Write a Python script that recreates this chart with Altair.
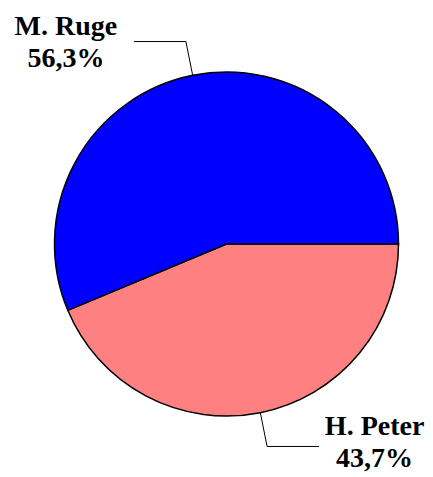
import math
import altair as alt
import pandas as pd

names = ["H. Peter", "M. Ruge"]
shares = [43.7, 56.3]
labels = ["H. Peter\n43,7%", "M. Ruge\n56,3%"]
colors = ["#FF8080", "#0000FF"]

# geometry (svg pixel space)
W, H = 417, 469
CX, CY, R = 218.5, 236.0, 172.0
R_ELBOW = 206.5
START = math.pi / 2

df = pd.DataFrame({"name": names, "share": shares, "order": [0, 1]})

# derive leader lines from the slice mid angles
total = sum(shares)
rows_line = []
rows_text = []
acc = 0.0
for n, s, lab in zip(names, shares, labels):
    mid = START + 2 * math.pi * (acc + s / 2) / total
    acc += s
    ex, ey = CX + R * math.sin(mid), CY - R * math.cos(mid)
    bx, by = CX + R_ELBOW * math.sin(mid), CY - R_ELBOW * math.cos(mid)
    side = 1 if math.sin(mid) > 0 else -1
    hx = bx + side * 52
    rows_line.append({"x": ex, "y": ey, "x2": bx, "y2": by})
    rows_line.append({"x": bx, "y": by, "x2": hx, "y2": by})
    if side > 0:
        tx, ty = hx + 55.5, by - 11
    else:
        tx, ty = hx - 68, by - 7
    rows_text.append({"x": tx, "y": ty, "label": lab})

lines_df = pd.DataFrame(rows_line)
text_df = pd.DataFrame(rows_text)

pie = alt.Chart(df).mark_arc(radius=R, stroke="black", strokeWidth=1.5).encode(
    theta=alt.Theta("share:Q", stack=True,
                    scale=alt.Scale(range=[START, START + 2 * math.pi])),
    order=alt.Order("order:Q"),
    color=alt.Color("name:N", scale=alt.Scale(domain=names, range=colors), legend=None),
    x=alt.value(CX),
    y=alt.value(CY),
)

leaders = alt.Chart(lines_df).mark_rule(color="black", strokeWidth=1).encode(
    x=alt.X("x:Q", scale=None),
    y=alt.Y("y:Q", scale=None),
    x2="x2:Q",
    y2="y2:Q",
)

texts = alt.Chart(text_df).mark_text(
    font="Liberation Serif", fontSize=28, fontWeight="bold",
    align="center", baseline="alphabetic", lineBreak="\n", lineHeight=32, color="black",
).encode(
    x=alt.X("x:Q", scale=None),
    y=alt.Y("y:Q", scale=None),
    text="label:N",
)

chart = alt.layer(pie, leaders, texts).properties(
    width=W, height=H, padding=0, autosize=alt.AutoSizeParams(type="none")
).configure_view(stroke=None)

chart.save("out.html", embed_options={"renderer": "svg", "actions": False})
